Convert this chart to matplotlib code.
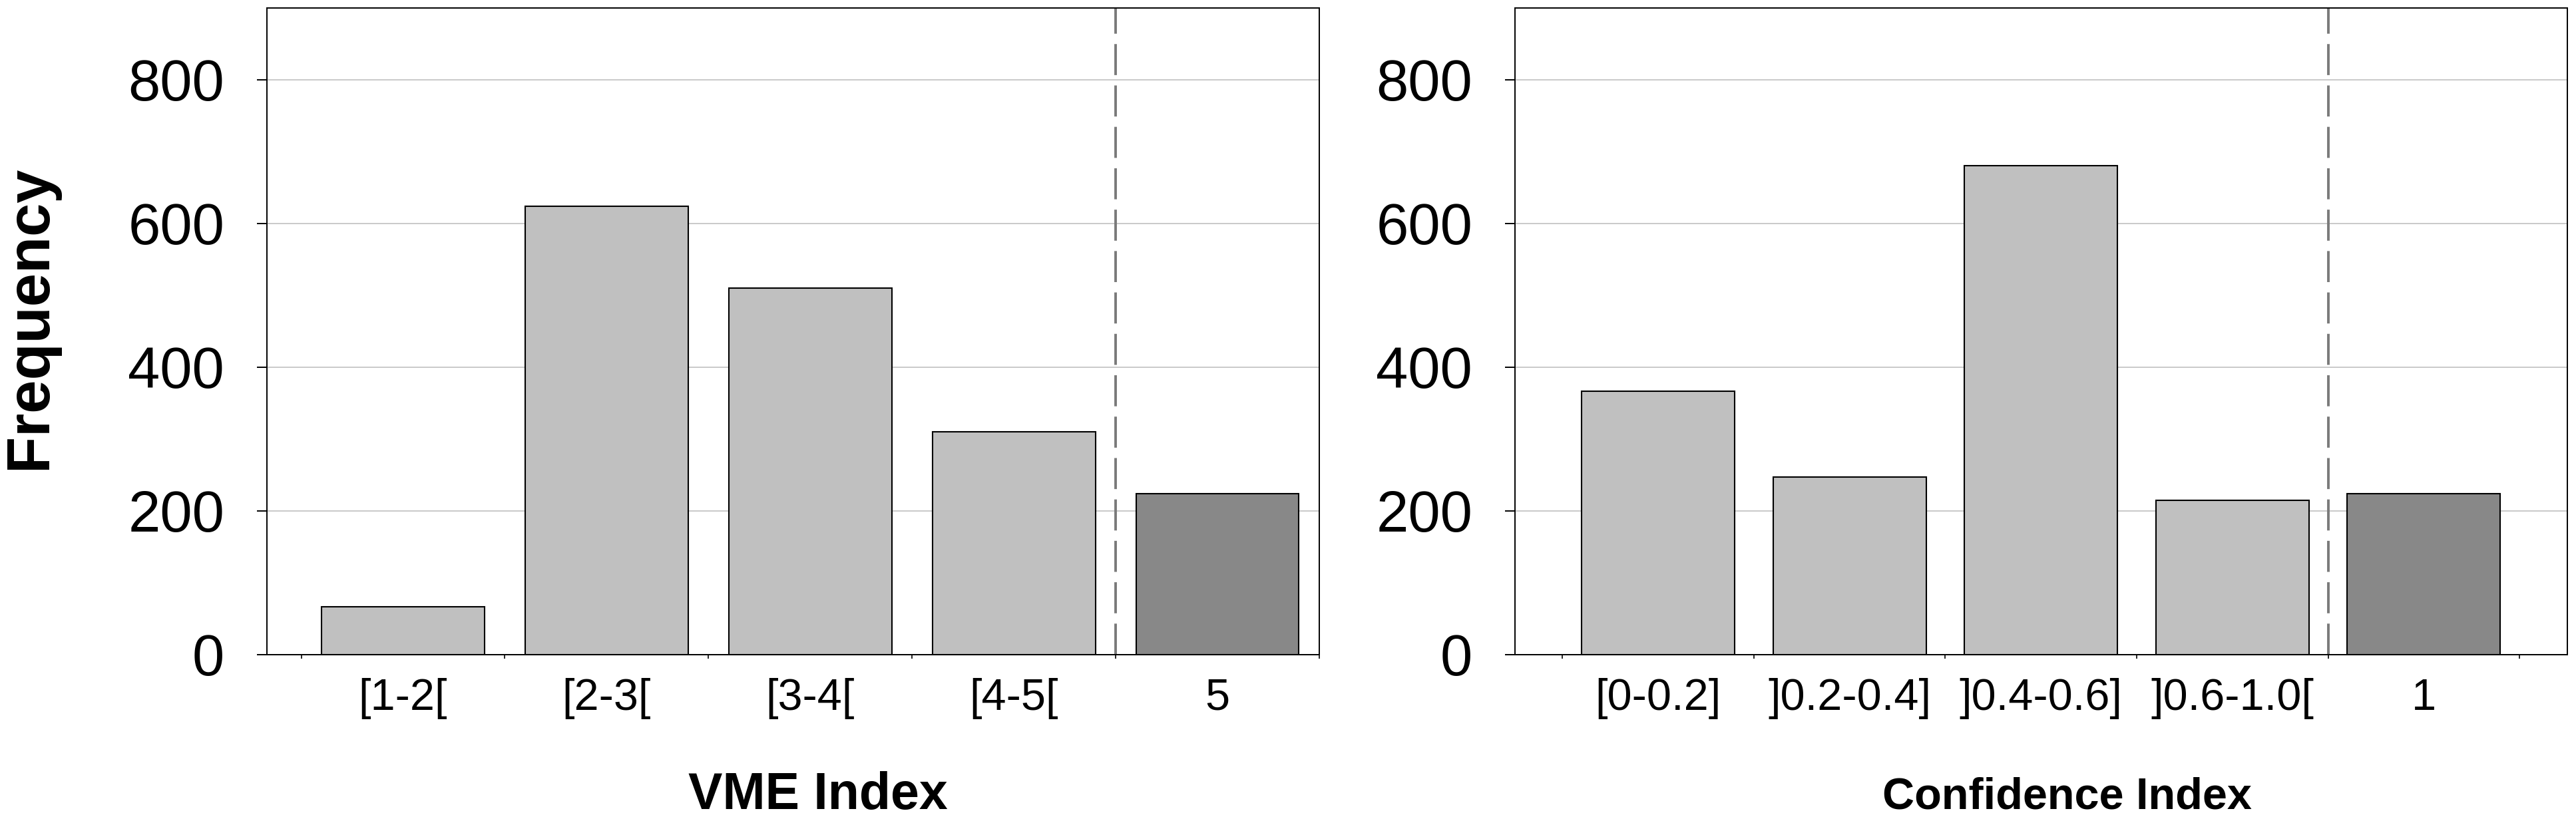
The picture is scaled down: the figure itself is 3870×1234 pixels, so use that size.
import matplotlib
matplotlib.use("Agg")
import matplotlib.pyplot as plt
from matplotlib.ticker import FixedLocator

plt.rcParams['font.family'] = ['Liberation Sans', 'DejaVu Sans']

vme_labels = ['[1-2[', '[2-3[', '[3-4[', '[4-5[', '5']
vme_freq = [67, 624, 510, 310, 224]

conf_labels = ['[0-0.2]', ']0.2-0.4]', ']0.4-0.6]', ']0.6-1.0[', '1']
conf_freq = [367, 247, 681, 215, 224]

light = '#c0c0c0'
dark = '#888888'

fig = plt.figure(figsize=(38.7, 12.34), dpi=100)
ax1 = fig.add_axes([400.5/3870, 250/1234, 1581.5/3870, 972/1234])
ax2 = fig.add_axes([2275.5/3870, 250/1234, 1581.5/3870, 972/1234])


def draw(ax, labels, freq, xlim):
    n = len(labels)
    x = list(range(n))
    colors = [light]*(n-1) + [dark]
    ax.bar(x, freq, width=0.8, color=colors, edgecolor='black', linewidth=1.5, zorder=3)
    ax.set_ylim(0, 900)
    ax.set_xlim(*xlim)
    ax.set_yticks([0, 200, 400, 600, 800])
    ax.yaxis.grid(True, color='#c0c0c0', linewidth=1.2, zorder=0)
    ax.set_axisbelow(True)
    # separator before the last class
    ax.axvline(n - 1.5, color='#7a7a7a', linewidth=2.8, dashes=(12, 4), zorder=2)
    ax.set_xticks(x)
    ax.set_xticklabels(labels)
    ax.xaxis.set_minor_locator(FixedLocator([i - 0.5 for i in range(n + 1)]))
    ax.tick_params(axis='x', which='major', length=0, pad=25, labelsize=48)
    ax.tick_params(axis='x', which='minor', length=4.5, width=1.2, direction='out')
    ax.tick_params(axis='y', length=10.6, width=1.4, pad=35, labelsize=62.6)
    for s in ax.spines.values():
        s.set_linewidth(1.4)


draw(ax1, vme_labels, vme_freq, (-0.67, 4.5))
draw(ax2, conf_labels, conf_freq, (-0.75, 4.75))

fig.text(46/3870, 1 - 477/1234, 'Frequency', rotation=90, ha='center', va='center',
         fontsize=65, fontweight='bold')
fig.text(1229/3870, 18/1234, 'VME Index', ha='center', va='baseline',
         fontsize=55.5, fontweight='bold')
fig.text(3105/3870, 18/1234, 'Confidence Index', ha='center', va='baseline',
         fontsize=48, fontweight='bold')

fig.savefig('out.png', dpi=100)
